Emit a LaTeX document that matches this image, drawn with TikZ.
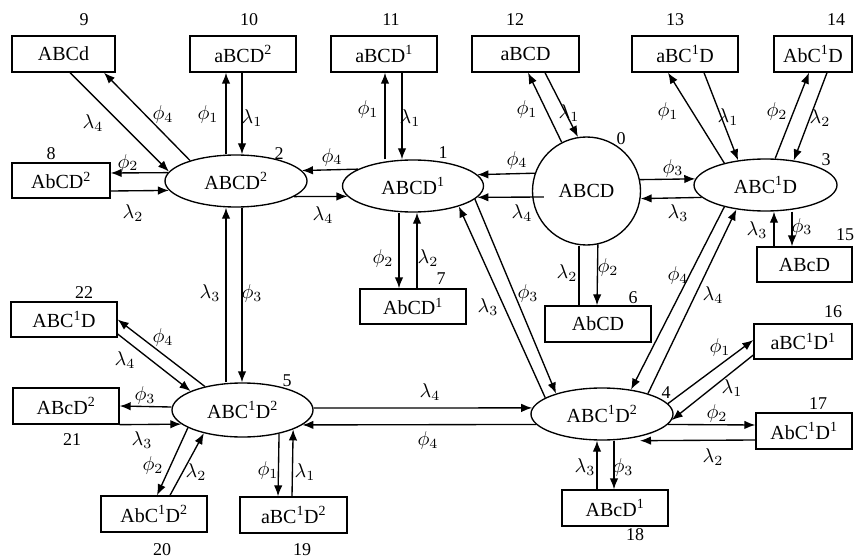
\documentclass[tikz,border=0pt]{standalone}
\usepackage{fontspec}
\setmainfont{Liberation Serif}
\usetikzlibrary{shapes.geometric,arrows.meta}
\begin{document}
\begin{tikzpicture}[x=1pt,y=-1pt,
  every node/.style={font=\fontsize{20}{23}\selectfont},
  box/.style={draw,line width=1.35pt,rectangle,minimum height=36pt,inner sep=0pt},
  ell/.style={draw,line width=1.35pt,ellipse,minimum width=142pt,minimum height=52pt,inner sep=0pt},
  num/.style={font=\fontsize{18}{20}\selectfont,inner sep=0pt},
  lab/.style={inner sep=0pt,font=\fontsize{10}{12}\selectfont,scale=2},
  tr/.style={line width=1.35pt,-{Latex[length=11pt,width=8.5pt]}},
  ln/.style={line width=1.35pt}]
\useasboundingbox (0,0) rectangle (854,559);
% boxes
\node[box,minimum width=103pt] (b9) at (63.5,54) {ABCd};
\node[box,minimum width=106pt] (b10) at (243,54) {aBCD\textsuperscript{2}};
\node[box,minimum width=98pt,minimum height=35pt] (b8) at (61,180.5) {AbCD\textsuperscript{2}};
\node[box,minimum width=106pt] (b11) at (384,54) {aBCD\textsuperscript{1}};
\node[box,minimum width=107pt] (b12) at (525.5,54) {aBCD};
\node[box,minimum width=106pt] (b13) at (685,54) {aBC\textsuperscript{1}D};
\node[box,minimum width=78pt] (b14) at (813,54) {AbC\textsuperscript{1}D};
\node[box,minimum width=95pt,minimum height=35pt] (b15) at (804.5,264.5) {ABcD};
\node[box,minimum width=98pt,minimum height=35pt] (b16) at (803,341.5) {aBC\textsuperscript{1}D\textsuperscript{1}};
\node[box,minimum width=96pt] (b17) at (804,431) {AbC\textsuperscript{1}D\textsuperscript{1}};
\node[box,minimum width=106pt,minimum height=35pt] (b7) at (413,306.5) {AbCD\textsuperscript{1}};
\node[box,minimum width=106pt] (b6) at (598,324) {AbCD};
\node[box,minimum width=106pt,minimum height=35pt] (b22) at (64,319.5) {ABC\textsuperscript{1}D};
\node[box,minimum width=106pt] (b21) at (66,406) {ABcD\textsuperscript{2}};
\node[box,minimum width=106pt] (b20) at (154,514) {AbC\textsuperscript{1}D\textsuperscript{2}};
\node[box,minimum width=107pt] (b19) at (293.5,515) {aBC\textsuperscript{1}D\textsuperscript{2}};
\node[box,minimum width=106pt] (b18) at (615,508) {ABcD\textsuperscript{1}};
% states
\node[ell] (e2) at (236,181) {ABCD\textsuperscript{2}};
\node[ell,minimum width=141pt] (e1) at (413,186) {ABCD\textsuperscript{1}};
\node[draw,line width=1.35pt,circle,minimum size=108pt,inner sep=0pt] (c0) at (586.5,191) {ABCD};
\node[ell,minimum width=143pt] (e3) at (765.5,185) {ABC\textsuperscript{1}D};
\node[ell] (e4) at (602,414) {ABC\textsuperscript{1}D\textsuperscript{2}};
\node[ell,minimum width=141pt,minimum height=54pt] (e5) at (242.5,410) {ABC\textsuperscript{1}D\textsuperscript{2}};
% numbers
\node[num] (n9) at (84,20) {9};
\node[num] (n10) at (249,20) {10};
\node[num] (n11) at (391,20) {11};
\node[num] (n12) at (515,20) {12};
\node[num] (n13) at (675,20) {13};
\node[num] (n14) at (836,20) {14};
\node[num] (n8) at (51,154) {8};
\node[num] (n2) at (279,154) {2};
\node[num] (n1) at (443,153) {1};
\node[num] (n0) at (621,139) {0};
\node[num] (n3) at (826,160) {3};
\node[num] (n15) at (845,235) {15};
\node[num] (n7) at (441,279) {7};
\node[num] (n6) at (633,298) {6};
\node[num] (n16) at (833,312) {16};
\node[num] (n22) at (84,293) {22};
\node[num] (n5) at (287,381) {5};
\node[num] (n4) at (666,393) {4};
\node[num] (n17) at (818,404) {17};
\node[num] (n21) at (72,440) {21};
\node[num] (n20) at (162,550) {20};
\node[num] (n19) at (302,550) {19};
\node[num] (n18) at (635,535) {18};
% 9 - 2
\draw[tr] ([xshift=6.5]b9.south) -- (e2.172);
\draw[tr] (e2.156) -- ([xshift=40.5]b9.south);
\node[lab] (t1) at (93,123) {$\lambda_4$};
\node[lab] (t2) at (163,115) {$\phi_4$};
% 10 - 2
\draw[tr] ([xshift=-10]e2.north) -- ([xshift=-17]b10.south);
\draw[tr] ([xshift=-1]b10.south) -- ([xshift=6]e2.north);
\node[lab] (t3) at (208,115) {$\phi_1$};
\node[lab] (t4) at (252,118) {$\lambda_1$};
% 8 - 2
\draw[tr] (e2.173.2) -- ([yshift=7.5]b8.east);
\draw[tr] ([yshift=-10.5]b8.east) -- (e2.188.7);
\node[lab] (t5) at (128,163) {$\phi_2$};
\node[lab] (t6) at (133,213) {$\lambda_2$};
% 1 - 2
\draw[tr] (e1.163.9) -- (e2.9.7);
\draw[tr] (e2.-15.9) -- (e1.189.8);
\node[lab] (t7) at (332,157) {$\phi_4$};
\node[lab] (t8) at (323,215) {$\lambda_4$};
% 1 - 11
\draw[tr] ([xshift=-28]e1.north) -- ([xshift=1]b11.south);
\draw[tr] ([xshift=18]b11.south) -- ([xshift=-11]e1.north);
\node[lab] (t9) at (368,110) {$\phi_1$};
\node[lab] (t10) at (410,118) {$\lambda_1$};
% 0 - 12
\draw[tr] (c0.117) -- ([xshift=2.5]b12.south);
\draw[tr] ([xshift=19.5]b12.south) -- (c0.99.5);
\node[lab] (t11) at (527,110) {$\phi_1$};
\node[lab] (t12) at (569,113) {$\lambda_1$};
% 0 - 1
\draw[tr] (c0.161.7) -- (e1.10.9);
\draw[tr] ([xshift=12,yshift=-6]c0.west) -- (e1.350.2);
\node[lab] (t13) at (517,160) {$\phi_4$};
\node[lab] (t14) at (522,213) {$\lambda_4$};
% 0 - 3
\draw[tr] (c0.12.8) -- (e3.175.1);
\draw[tr] (e3.191.9) -- (c0.352.5);
\node[lab] (t15) at (673,168) {$\phi_3$};
\node[lab] (t16) at (678,213) {$\lambda_3$};
% 3 - 13
\draw[tr] (e3.152.1) -- ([xshift=-17]b13.south);
\draw[tr] ([xshift=19]b13.south) -- (e3.138.6);
\node[lab] (t17) at (668,112) {$\phi_1$};
\node[lab] (t18) at (728,117) {$\lambda_1$};
% 3 - 14
\draw[tr] (e3.70.6) -- ([xshift=-4]b14.south);
\draw[tr] ([xshift=14]b14.south) -- (e3.41.4);
\node[lab] (t19) at (777,112) {$\phi_2$};
\node[lab] (t20) at (820,118) {$\lambda_2$};
% 15 - 3
\draw[tr] ([xshift=-30.5]b15.north) -- ([xshift=8.5]e3.south);
\draw[tr] ([xshift=26.5]e3.south) -- ([xshift=-12.5]b15.north);
\node[lab] (t21) at (757,230) {$\lambda_3$};
\node[lab] (t22) at (802,227) {$\phi_3$};
% 0 - 6
\draw[ln] ([xshift=-7.5]c0.south) -- ([xshift=-19]b6.north);
\draw[tr] (c0.-78.8) -- ([xshift=-1]b6.north);
\node[lab] (t23) at (567,273) {$\lambda_2$};
\node[lab] (t24) at (608,267) {$\phi_2$};
% 1 - 7
\draw[tr] ([xshift=-14]e1.south) -- ([xshift=-14]b7.north);
\draw[tr] ([xshift=4]b7.north) -- ([xshift=4]e1.south);
\node[lab] (t25) at (383,258) {$\phi_2$};
\node[lab] (t26) at (428,258) {$\lambda_2$};
% 1 - 4
\draw[tr] (e4.164) -- (e1.-24.5);
\draw[tr] (e1.-12) -- (e4.156);
\node[lab] (t27) at (488,307) {$\lambda_3$};
\node[lab] (t28) at (528,293) {$\phi_3$};
% 3 - 4
\draw[tr] (e3.208) -- (e4.40);
\draw[tr] (e4.24) -- (e3.220);
\node[lab] (t29) at (678,275) {$\phi_4$};
\node[lab] (t30) at (713,295) {$\lambda_4$};
% 2 - 5
\draw[tr] ([xshift=-16.5]e5.north) -- ([xshift=-10]e2.south);
\draw[tr] ([xshift=6]e2.south) -- ([xshift=-0.5]e5.north);
\node[lab] (t31) at (210,293) {$\lambda_3$};
\node[lab] (t32) at (252,293) {$\phi_3$};
% 5 - 22
\draw[tr] (e5.148.5) -- (b22.east);
\draw[tr] ([yshift=-14.5]b22.east) -- (e5.160);
\node[lab] (t33) at (163,337) {$\phi_4$};
\node[lab] (t34) at (125,360) {$\lambda_4$};
% 5 - 21
\draw[tr] ([yshift=3]e5.west) -- (b21.east);
\draw[tr] (b21.south east) -- (e5.193.1);
\node[lab] (t35) at (145,395) {$\phi_3$};
\node[lab] (t36) at (142,440) {$\lambda_3$};
% 5 - 20
\draw[tr] (e5.198.9) -- ([xshift=3]b20.north);
\draw[tr] ([xshift=16]b20.north) -- (e5.211.7);
\node[lab] (t37) at (153,465) {$\phi_2$};
\node[lab] (t38) at (196,472) {$\lambda_2$};
% 5 - 19
\draw[tr] (e5.-33.3) -- ([xshift=-15.5]b19.north);
\draw[tr] ([xshift=-1.5]b19.north) -- (e5.-21.2);
\node[lab] (t39) at (268,470) {$\phi_1$};
\node[lab] (t40) at (305,472) {$\lambda_1$};
% 5 - 4
\draw[tr] ([yshift=2]e5.east) -- (e4.175);
\draw[tr] (e4.189.7) -- (e5.-14.4);
\node[lab] (t41) at (430,392) {$\lambda_4$};
\node[lab] (t42) at (428,440) {$\phi_4$};
% 4 - 16
\draw[tr] (e4.9) -- ([yshift=1.5]b16.west);
\draw[tr] ([yshift=-13.5]b16.west) -- (e4.-5);
\node[lab] (t43) at (720,347) {$\phi_1$};
\node[lab] (t44) at (732,388) {$\lambda_1$};
% 4 - 17
\draw[tr] (e4.-9.7) -- ([yshift=6]b17.west);
\draw[tr] ([yshift=-9]b17.west) -- ([xshift=38]e4.south);
\node[lab] (t45) at (717,413) {$\phi_2$};
\node[lab] (t46) at (713,457) {$\lambda_2$};
% 18 - 4
\draw[tr] ([xshift=-18]b18.north) -- ([xshift=-5]e4.south);
\draw[tr] ([xshift=12]e4.south) -- ([xshift=-1]b18.north);
\node[lab] (t47) at (585,467) {$\lambda_3$};
\node[lab] (t48) at (623,467) {$\phi_3$};
\end{tikzpicture}
\end{document}
